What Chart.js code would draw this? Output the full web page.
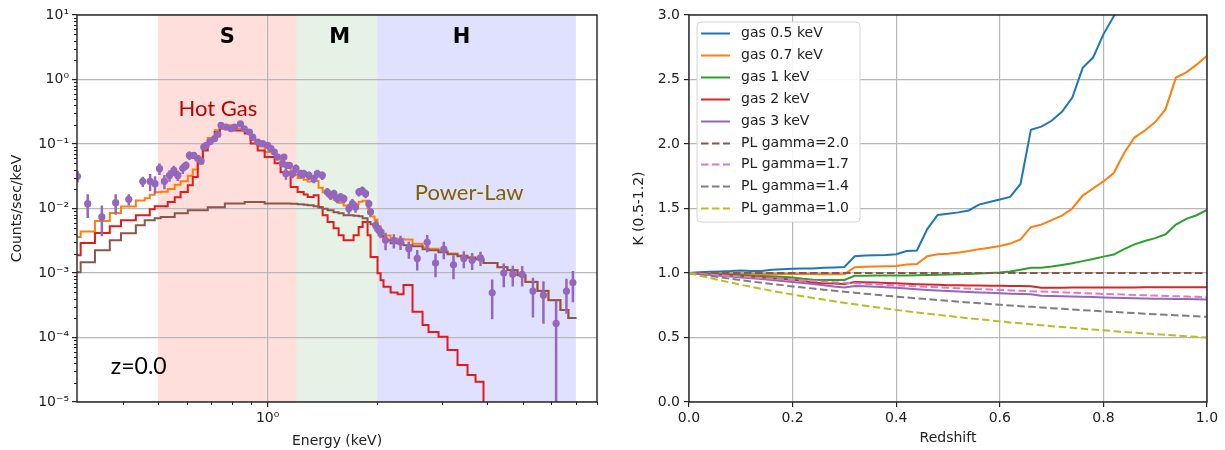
<!DOCTYPE html>
<html>
<head>
<meta charset="utf-8">
<script src="https://cdn.jsdelivr.net/npm/chart.js@4.4.1/dist/chart.umd.min.js"></script>
<style>
  body { margin: 0; background: #fff; }
  #wrap { position: relative; width: 1225px; height: 450px; }
  .panel { position: absolute; top: 0; height: 450px; }
  #pLeft { left: 0; width: 612px; }
  #pRight { left: 612px; width: 613px; }
</style>
</head>
<body>
<div id="wrap">
  <div class="panel" id="pLeft"><canvas id="spec" width="612" height="450"></canvas></div>
  <div class="panel" id="pRight"><canvas id="kcorr" width="613" height="450"></canvas></div>
</div>
<script>
// --- left panel: spectrum (keV, counts/sec/keV) ---

// left edges of the model bins, last entry = right end of the last bin
const modelE = [0.300, 0.307, 0.336, 0.369, 0.396, 0.435, 0.460, 0.475, 0.490, 0.509,
  0.532, 0.556, 0.577, 0.604, 0.623, 0.643, 0.664, 0.685, 0.716, 0.739,
  0.763, 0.812, 0.865, 0.898, 0.939, 0.981, 1.045, 1.085, 1.156, 1.208,
  1.255, 1.287, 1.337, 1.379, 1.415, 1.460, 1.516, 1.565, 1.615, 1.720,
  1.776, 1.821, 1.879, 1.915, 1.964, 2.001, 2.040, 2.078, 2.173, 2.271,
  2.358, 2.496, 2.659, 2.761, 2.941, 3.113, 3.316, 3.532, 3.715, 3.907,
  4.083, 4.267, 4.545, 4.842, 5.091, 5.493, 5.888, 6.350, 6.678, 7.025];

const totalModel = [0.0036, 0.0044, 0.0064, 0.0085, 0.0107, 0.0133, 0.0144, 0.0163, 0.0179, 0.0182,
  0.0200, 0.0233, 0.0264, 0.0323, 0.0402, 0.0595, 0.0890, 0.124, 0.163, 0.185,
  0.195, 0.174, 0.159, 0.115, 0.092, 0.075, 0.062, 0.048, 0.0335, 0.0296,
  0.0279, 0.0263, 0.0268, 0.0209, 0.0178, 0.0156, 0.0137, 0.0123, 0.0111, 0.0116,
  0.0127, 0.0132, 0.0100, 0.0075, 0.0067, 0.0053, 0.0045, 0.0038, 0.0034, 0.0034,
  0.0033, 0.00285, 0.0025, 0.00237, 0.0022, 0.00201, 0.00186, 0.00176, 0.00166, 0.00143,
  0.00143, 0.00124, 0.00111, 0.00093, 0.00073, 0.00053, 0.00038, 0.000267, 0.0002, 0.0002];

const hotGasModel = [0.00189, 0.00292, 0.00418, 0.0053, 0.00656, 0.00785, 0.00785, 0.00972, 0.0108, 0.0108,
  0.0126, 0.0149, 0.0180, 0.0229, 0.0308, 0.0501, 0.0796, 0.1137, 0.1528, 0.1744,
  0.1827, 0.1624, 0.146, 0.102, 0.0796, 0.0627, 0.0501, 0.0364, 0.0215, 0.018,
  0.0165, 0.0151, 0.016, 0.0105, 0.00785, 0.00618, 0.00493, 0.00385, 0.00322, 0.00385,
  0.00517, 0.00618, 0.00385, 0.00177, 0.00177, 0.00099, 0.00077, 0.00061, 0.0005, 0.00047,
  0.00065, 0.00025, 0.000156, 0.000122, 0.000103, 0.0000638, 0.0000374, 0.0000262, 0.0000206, 0.000001];

const powerLawModel = [0.00103, 0.00147, 0.00225, 0.00322, 0.00413, 0.00549, 0.00656, 0.00656, 0.00705, 0.00739,
  0.00739, 0.00843, 0.00843, 0.00938, 0.00938, 0.00938, 0.00938, 0.0105, 0.0105, 0.0105,
  0.0120, 0.0120, 0.0126, 0.0126, 0.0126, 0.0120, 0.0120, 0.0120, 0.0118, 0.0116,
  0.0114, 0.0112, 0.0108, 0.0104, 0.0099, 0.00938, 0.00873, 0.00843, 0.00785, 0.00771,
  0.00757, 0.00705, 0.00618, 0.00569, 0.00493, 0.00428, 0.00371, 0.00322, 0.00289, 0.00289,
  0.00269, 0.00260, 0.00234, 0.00225, 0.00210, 0.00195, 0.00182, 0.00173, 0.00164, 0.00143,
  0.00143, 0.00123, 0.00110, 0.000925, 0.000728, 0.000528, 0.000379, 0.000266, 0.000200, 0.000200];

// observed spectrum
const dataE = [0.301, 0.321, 0.351, 0.383, 0.416, 0.4545, 0.476, 0.491, 0.505, 0.521,
  0.538, 0.553, 0.567, 0.585, 0.597, 0.610, 0.627, 0.643, 0.657, 0.668,
  0.678, 0.696, 0.715, 0.730, 0.745, 0.769, 0.794, 0.811, 0.842, 0.863,
  0.891, 0.910, 0.939, 0.969, 1.000, 1.021, 1.043, 1.065, 1.099, 1.108,
  1.122, 1.132, 1.147, 1.171, 1.195, 1.231, 1.257, 1.298, 1.339, 1.368,
  1.412, 1.457, 1.488, 1.519, 1.552, 1.585, 1.618, 1.670, 1.707, 1.742,
  1.779, 1.818, 1.856, 1.894, 1.915, 1.977, 2.018, 2.040, 2.105, 2.218,
  2.314, 2.438, 2.571, 2.738, 2.886, 3.041, 3.233, 3.450, 3.637, 3.834,
  4.127, 4.440, 4.700, 4.987, 5.339, 5.704, 6.180, 6.597, 6.871];

const dataC = [0.0315, 0.0119, 0.0074, 0.0123, 0.0139, 0.0264, 0.0264, 0.0243, 0.0415, 0.0264,
  0.0326, 0.039, 0.0326, 0.0419, 0.0466, 0.0666, 0.0666, 0.0598, 0.0544, 0.0895,
  0.0951, 0.109, 0.121, 0.141, 0.194, 0.183, 0.1725, 0.183, 0.206, 0.1725,
  0.153, 0.128, 0.107, 0.101, 0.0951, 0.0846, 0.0749, 0.0627, 0.0495, 0.0627,
  0.0347, 0.0466, 0.0466, 0.0347, 0.0419, 0.0347, 0.0347, 0.0326, 0.029, 0.0347,
  0.0326, 0.018, 0.016, 0.017, 0.0142, 0.0151, 0.0142, 0.00997, 0.0119, 0.0105,
  0.018, 0.019, 0.017, 0.0119, 0.00883, 0.00549, 0.0046, 0.00433, 0.00322, 0.0032,
  0.00303, 0.00238, 0.00168, 0.0030, 0.00143, 0.00234, 0.00134, 0.00168, 0.00158, 0.00171,
  0.000492, 0.0010, 0.000958, 0.00095, 0.000525, 0.000453, 0.000165, 0.000523, 0.000713];

const dataErr = [0.0063, 0.0048, 0.0037, 0.0043, 0.0028, 0.0048, 0.0079, 0.0073, 0.0083, 0.0066,
  0.0065, 0.007, 0.0059, 0.0075, 0.007, 0.010, 0.008, 0.0072, 0.0065, 0.009,
  0.0095, 0.0087, 0.0097, 0.0113, 0.0136, 0.0128, 0.0121, 0.0128, 0.0144, 0.0121,
  0.0107, 0.0102, 0.0086, 0.0081, 0.0076, 0.0085, 0.0075, 0.0063, 0.0059, 0.0075,
  0.0069, 0.0056, 0.0056, 0.0052, 0.0063, 0.0052, 0.0052, 0.0049, 0.0044, 0.0052,
  0.0049, 0.0027, 0.0024, 0.0026, 0.0021, 0.0023, 0.0021, 0.0018, 0.0021, 0.0019,
  0.0027, 0.0029, 0.0026, 0.0018, 0.0013, 0.0011, 0.00092, 0.00087, 0.00097, 0.0008,
  0.00076, 0.00071, 0.00059, 0.0009, 0.00057, 0.0007, 0.00054, 0.0005, 0.00047, 0.00043,
  0.0003, 0.0004, 0.00034, 0.00033, 0.00032, 0.00029, 0.000205, 0.00029, 0.00036];

const bandNames = ['S', 'M', 'H'];
const bandEdges = [0.5, 1.2, 2.0, 7.0];

const countTicks = [1e-5, 1e-4, 1e-3, 1e-2, 1e-1, 1, 10];
const energyTicks = [1];

// --- right panel: K(0.5-1.2) vs redshift ---
const redshift = [0, 0.02, 0.04, 0.06, 0.08, 0.1, 0.12, 0.14, 0.16, 0.18,
  0.2, 0.22, 0.24, 0.26, 0.28, 0.3, 0.32, 0.34, 0.36, 0.38,
  0.4, 0.42, 0.44, 0.46, 0.48, 0.5, 0.52, 0.54, 0.56, 0.58,
  0.6, 0.62, 0.64, 0.66, 0.68, 0.7, 0.72, 0.74, 0.76, 0.78,
  0.8, 0.82, 0.84, 0.86, 0.88, 0.9, 0.92, 0.94, 0.96, 0.98, 1.0];

const gas05 = [1.0, 1.005, 1.01, 1.012, 1.015, 1.02, 1.015, 1.015, 1.025, 1.03,
  1.032, 1.035, 1.035, 1.04, 1.043, 1.047, 1.13, 1.135, 1.138, 1.14,
  1.145, 1.17, 1.175, 1.34, 1.45, 1.46, 1.47, 1.485, 1.53, 1.55,
  1.57, 1.59, 1.69, 2.11, 2.135, 2.18, 2.25, 2.36, 2.59, 2.67,
  2.85, 2.99, 3.12, null, null, null, null, null, null, null, null];
const gas07 = [1.0, 0.998, 0.997, 0.996, 0.995, 0.995, 0.994, 0.993, 0.993, 0.993,
  0.992, 0.992, 0.992, 0.991, 0.991, 0.991, 1.045, 1.048, 1.05, 1.052,
  1.055, 1.065, 1.07, 1.13, 1.145, 1.15, 1.158, 1.17, 1.185, 1.195,
  1.21, 1.228, 1.26, 1.355, 1.375, 1.41, 1.445, 1.5, 1.6, 1.655,
  1.71, 1.775, 1.93, 2.05, 2.105, 2.17, 2.27, 2.515, 2.555, 2.615, 2.685];
const gas1 = [1.0, 0.997, 0.994, 0.99, 0.987, 0.984, 0.98, 0.977, 0.974, 0.97,
  0.965, 0.955, 0.948, 0.946, 0.946, 0.946, 0.978, 0.979, 0.98, 0.98,
  0.98, 0.981, 0.982, 0.984, 0.986, 0.988, 0.99, 0.993, 0.996, 1.0,
  1.004, 1.012, 1.025, 1.04, 1.04, 1.05, 1.062, 1.075, 1.092, 1.108,
  1.127, 1.143, 1.185, 1.222, 1.248, 1.27, 1.3, 1.375, 1.42, 1.448, 1.49];
const gas2 = [1.0, 0.995, 0.99, 0.985, 0.98, 0.975, 0.97, 0.965, 0.96, 0.955,
  0.948, 0.94, 0.925, 0.92, 0.918, 0.915, 0.93, 0.928, 0.926, 0.923,
  0.92, 0.917, 0.913, 0.91, 0.908, 0.906, 0.905, 0.904, 0.903, 0.902,
  0.901, 0.9, 0.899, 0.898, 0.886, 0.886, 0.886, 0.887, 0.887, 0.887,
  0.888, 0.888, 0.888, 0.888, 0.889, 0.889, 0.889, 0.889, 0.89, 0.89, 0.89];
const gas3 = [1.0, 0.993, 0.986, 0.979, 0.972, 0.966, 0.96, 0.954, 0.946, 0.938,
  0.93, 0.922, 0.914, 0.905, 0.895, 0.888, 0.9, 0.897, 0.894, 0.89,
  0.885, 0.88, 0.874, 0.869, 0.864, 0.86, 0.856, 0.852, 0.849, 0.846,
  0.843, 0.84, 0.838, 0.836, 0.823, 0.821, 0.819, 0.817, 0.815, 0.813,
  0.811, 0.809, 0.807, 0.805, 0.803, 0.801, 0.8, 0.799, 0.798, 0.797, 0.795];
const pl20 = [1, 1, 1, 1, 1, 1, 1, 1, 1, 1,
  1, 1, 1, 1, 1, 1, 1, 1, 1, 1,
  1, 1, 1, 1, 1, 1, 1, 1, 1, 1,
  1, 1, 1, 1, 1, 1, 1, 1, 1, 1,
  1, 1, 1, 1, 1, 1, 1, 1, 1, 1, 1];
const pl17 = [1.0, 0.994, 0.988, 0.983, 0.977, 0.972, 0.967, 0.962, 0.956, 0.952,
  0.947, 0.942, 0.938, 0.933, 0.929, 0.924, 0.920, 0.916, 0.912, 0.908,
  0.904, 0.900, 0.896, 0.893, 0.889, 0.886, 0.882, 0.879, 0.875, 0.872,
  0.869, 0.865, 0.862, 0.859, 0.856, 0.853, 0.850, 0.847, 0.844, 0.841,
  0.838, 0.836, 0.833, 0.830, 0.828, 0.825, 0.822, 0.820, 0.817, 0.815, 0.812];
const pl14 = [1.0, 0.988, 0.977, 0.966, 0.955, 0.944, 0.934, 0.925, 0.915, 0.906,
  0.896, 0.888, 0.879, 0.871, 0.862, 0.854, 0.847, 0.839, 0.832, 0.824,
  0.817, 0.810, 0.804, 0.797, 0.791, 0.784, 0.778, 0.772, 0.766, 0.760,
  0.754, 0.749, 0.743, 0.738, 0.733, 0.727, 0.722, 0.717, 0.712, 0.708,
  0.703, 0.698, 0.694, 0.689, 0.685, 0.680, 0.676, 0.672, 0.668, 0.664, 0.660];
const pl10 = [1.0, 0.980, 0.962, 0.943, 0.926, 0.909, 0.893, 0.877, 0.862, 0.847,
  0.833, 0.820, 0.806, 0.794, 0.781, 0.769, 0.758, 0.746, 0.735, 0.725,
  0.714, 0.704, 0.694, 0.685, 0.676, 0.667, 0.658, 0.649, 0.641, 0.633,
  0.625, 0.617, 0.610, 0.602, 0.595, 0.588, 0.581, 0.575, 0.568, 0.562,
  0.556, 0.549, 0.543, 0.538, 0.532, 0.526, 0.521, 0.515, 0.510, 0.505, 0.500];

const kLabels = ['gas 0.5 keV', 'gas 0.7 keV', 'gas 1 keV', 'gas 2 keV', 'gas 3 keV',
  'PL gamma=2.0', 'PL gamma=1.7', 'PL gamma=1.4', 'PL gamma=1.0'];
const kSeries = [gas05, gas07, gas1, gas2, gas3, pl20, pl17, pl14, pl10];

// --- styling ---
const FONT = 'DejaVu Sans';
const INK = '#222222';
const GRID = '#b8b8b8';
const kColors = ['#1f77b4', '#ff7f0e', '#2ca02c', '#d62728', '#9467bd',
  '#8c564b', '#e377c2', '#7f7f7f', '#bcbd22'];
const bandColors = ['rgba(250,128,114,0.25)', 'rgba(0,128,0,0.10)', 'rgba(0,0,255,0.12)'];
const PURPLE = '#9467bd';

Chart.defaults.font.family = FONT;
Chart.defaults.font.size = 14;
Chart.defaults.color = INK;

const SUP = { '0': '⁰', '1': '¹', '2': '²', '3': '³', '4': '⁴', '5': '⁵', '-': '⁻' };
function powLabel(v) {
  const e = Math.round(Math.log10(v));
  return '10' + String(e).split('').map(c => SUP[c]).join('');
}

function frame(chart) {
  const { ctx, chartArea: a } = chart;
  ctx.save();
  ctx.strokeStyle = INK;
  ctx.lineWidth = 1.4;
  ctx.strokeRect(a.left, a.top, a.right - a.left, a.bottom - a.top);
  ctx.restore();
}

function pairs(xs, ys) {
  return ys.map((v, i) => ({ x: xs[i], y: v }));
}

// bands, text, error bars, minor ticks for the spectrum
const spectrumDecor = {
  id: 'spectrumDecor',
  beforeDraw(chart) {
    const { ctx, chartArea: a, scales: { x } } = chart;
    ctx.save();
    bandNames.forEach((n, i) => {
      const x0 = x.getPixelForValue(bandEdges[i]);
      const x1 = x.getPixelForValue(bandEdges[i + 1]);
      ctx.fillStyle = bandColors[i];
      ctx.fillRect(x0, a.top, x1 - x0, a.bottom - a.top);
    });
    ctx.restore();
  },
  beforeDatasetDraw(chart, args) {
    if (args.index !== 3) return;
    const { ctx, chartArea: a, scales: { x, y } } = chart;
    ctx.save();
    ctx.beginPath();
    ctx.rect(a.left, a.top, a.right - a.left, a.bottom - a.top);
    ctx.clip();
    ctx.strokeStyle = PURPLE;
    ctx.lineWidth = 2.5;
    ctx.beginPath();
    dataE.forEach((e, i) => {
      const px = x.getPixelForValue(e);
      const lo = dataC[i] - dataErr[i];
      const yTop = y.getPixelForValue(dataC[i] + dataErr[i]);
      const yBot = lo > 0 ? y.getPixelForValue(lo) : a.bottom + 2;
      ctx.moveTo(px, yTop);
      ctx.lineTo(px, yBot);
    });
    ctx.stroke();
    ctx.restore();
  },
  afterDatasetsDraw(chart) {
    const { ctx, scales: { x, y } } = chart;
    ctx.save();
    ctx.textBaseline = 'middle';
    ctx.textAlign = 'center';
    ctx.fillStyle = '#000';
    ctx.font = 'bold 21px "DejaVu Sans"';
    const bandLabelE = [0.775, 1.575, 3.4];
    bandNames.forEach((n, i) => ctx.fillText(n, x.getPixelForValue(bandLabelE[i]), y.getPixelForValue(4.5)));
    ctx.font = '22px Lato';
    ctx.fillStyle = '#c00000';
    ctx.fillText('Hot Gas', x.getPixelForValue(0.73), y.getPixelForValue(0.356));
    ctx.fillStyle = '#7f6000';
    ctx.fillText('Power-Law', x.getPixelForValue(3.57), y.getPixelForValue(0.0172));
    ctx.fillStyle = '#000';
    ctx.textAlign = 'left';
    ctx.font = '23px Lato';
    ctx.fillText('z=0.0', x.getPixelForValue(0.3715), y.getPixelForValue(3.48e-5));
    ctx.restore();
  },
  afterDraw(chart) {
    const { ctx, chartArea: a, scales: { x, y } } = chart;
    ctx.save();
    ctx.strokeStyle = INK;
    ctx.lineWidth = 1;
    ctx.beginPath();
    for (let v = 0.4; v < 8.01; v += 0.1) {
      const val = v < 1 ? v : Math.round(v);
      if (v > 1 && Math.abs(v - Math.round(v)) > 1e-6) continue;
      if (Math.abs(val - 1) < 1e-6) continue;
      const px = Math.round(x.getPixelForValue(val)) + 0.5;
      ctx.moveTo(px, a.bottom);
      ctx.lineTo(px, a.bottom + 3);
    }
    countTicks.slice(0, -1).forEach(d => {
      for (let k = 2; k < 10; k++) {
        const py = Math.round(y.getPixelForValue(k * d)) + 0.5;
        ctx.moveTo(a.left, py);
        ctx.lineTo(a.left - 3, py);
      }
    });
    ctx.stroke();
    ctx.restore();
    frame(chart);
  }
};

new Chart(document.getElementById('spec'), {
  type: 'line',
  data: {
    datasets: [
      { label: 'total', data: pairs(modelE, totalModel), borderColor: '#ff7f0e', borderWidth: 2, stepped: true, pointRadius: 0, order: 4 },
      { label: 'hot gas', data: pairs(modelE, hotGasModel), borderColor: '#e31a1c', borderWidth: 2, stepped: true, pointRadius: 0, order: 3 },
      { label: 'power law', data: pairs(modelE, powerLawModel), borderColor: '#8c564b', borderWidth: 2, stepped: true, pointRadius: 0, order: 2 },
      { label: 'data', data: pairs(dataE, dataC), showLine: false, pointRadius: 3.6, pointBackgroundColor: PURPLE, pointBorderWidth: 0, borderColor: PURPLE, order: 1 }
    ]
  },
  options: {
    responsive: false,
    animation: false,
    devicePixelRatio: 1,
    layout: { padding: { top: 15, right: 15, left: 0, bottom: 0 } },
    plugins: { legend: { display: false }, tooltip: { enabled: false } },
    scales: {
      x: {
        type: 'logarithmic', min: 0.3, max: 8,
        afterBuildTicks: s => { s.ticks = energyTicks.map(v => ({ value: v })); },
        afterFit: s => { s.height = 48; },
        ticks: { callback: v => powLabel(v), autoSkip: false, maxRotation: 0, padding: 3 },
        grid: { color: GRID, lineWidth: 1.2, tickColor: INK, tickLength: 5 },
        border: { display: false },
        title: { display: true, text: 'Energy (keV)', padding: { top: 0, bottom: 0 } }
      },
      y: {
        type: 'logarithmic', min: 1e-5, max: 10,
        afterBuildTicks: s => { s.ticks = countTicks.map(v => ({ value: v })); },
        afterFit: s => { s.width = 77; },
        ticks: { callback: v => powLabel(v), autoSkip: false, padding: 3 },
        grid: { color: GRID, lineWidth: 1.2, tickColor: INK, tickLength: 5 },
        border: { display: false },
        title: { display: true, text: 'Counts/sec/keV', padding: { top: 9, bottom: 4 } }
      }
    }
  },
  plugins: [spectrumDecor]
});

// legend box for the K panel
const kLegend = {
  id: 'kLegend',
  afterDatasetsDraw(chart) {
    const { ctx, chartArea: a } = chart;
    const x0 = a.left + 8, y0 = a.top + 7, w = 163, h = 200, r = 4;
    ctx.save();
    ctx.beginPath();
    ctx.moveTo(x0 + r, y0);
    ctx.arcTo(x0 + w, y0, x0 + w, y0 + h, r);
    ctx.arcTo(x0 + w, y0 + h, x0, y0 + h, r);
    ctx.arcTo(x0, y0 + h, x0, y0, r);
    ctx.arcTo(x0, y0, x0 + w, y0, r);
    ctx.closePath();
    ctx.fillStyle = 'rgba(255,255,255,0.85)';
    ctx.fill();
    ctx.strokeStyle = '#d4d4d4';
    ctx.lineWidth = 1;
    ctx.stroke();
    ctx.font = '14px "DejaVu Sans"';
    ctx.textBaseline = 'middle';
    chart.data.datasets.forEach((ds, i) => {
      const yy = Math.round(y0 + 11 + i * 21.9) + 0.5;
      ctx.setLineDash(ds.borderDash || []);
      ctx.strokeStyle = ds.borderColor;
      ctx.lineWidth = 2;
      ctx.beginPath();
      ctx.moveTo(x0 + 4, yy);
      ctx.lineTo(x0 + 33, yy);
      ctx.stroke();
      ctx.setLineDash([]);
      ctx.fillStyle = INK;
      ctx.fillText(ds.label, x0 + 44, yy);
    });
    ctx.restore();
  },
  afterDraw: frame
};

new Chart(document.getElementById('kcorr'), {
  type: 'line',
  data: {
    datasets: kSeries.map((s, i) => ({
      label: kLabels[i],
      data: pairs(redshift, s),
      borderColor: kColors[i],
      borderWidth: 2,
      borderDash: i >= 5 ? [7.5, 3.5] : [],
      pointRadius: 0,
      tension: 0,
      order: kSeries.length - i
    }))
  },
  options: {
    responsive: false,
    animation: false,
    devicePixelRatio: 1,
    layout: { padding: { top: 15, right: 18, left: 0, bottom: 0 } },
    plugins: { legend: { display: false }, tooltip: { enabled: false } },
    scales: {
      x: {
        type: 'linear', min: 0, max: 1,
        afterFit: s => { s.height = 48; },
        ticks: { stepSize: 0.2, callback: v => v.toFixed(1), maxRotation: 0, padding: 3 },
        grid: { color: GRID, lineWidth: 1.2, tickColor: INK, tickLength: 5 },
        border: { display: false },
        title: { display: true, text: 'Redshift', padding: { top: 4, bottom: 3 } }
      },
      y: {
        type: 'linear', min: 0, max: 3,
        afterFit: s => { s.width = 77; },
        ticks: { stepSize: 0.5, callback: v => v.toFixed(1), padding: 4 },
        grid: { color: GRID, lineWidth: 1.2, tickColor: INK, tickLength: 5 },
        border: { display: false },
        title: { display: true, text: 'K (0.5-1.2)', padding: { top: 19, bottom: 4 } }
      }
    }
  },
  plugins: [kLegend]
});
</script>
</body>
</html>
